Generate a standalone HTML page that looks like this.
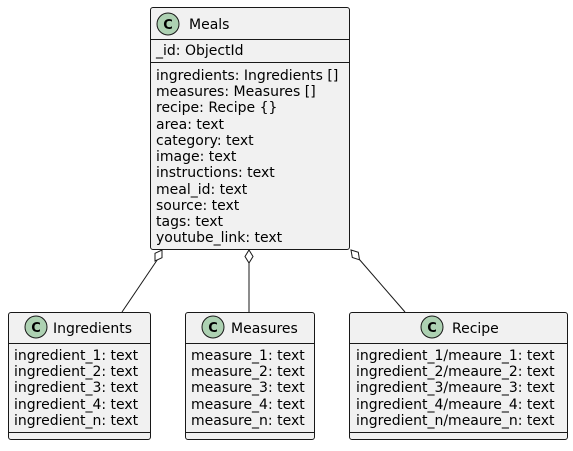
<!DOCTYPE html>
<html><head><meta charset="utf-8"><style>
html,body{margin:0;padding:0;background:#fff;}
svg text{font-family:"DejaVu Sans","Liberation Sans",sans-serif;font-size:14px;fill:#000;}
</style></head><body>
<svg width="573" height="446" viewBox="0 0 573 446" xmlns="http://www.w3.org/2000/svg">
<g stroke="#181818" stroke-width="1" fill="none">
<line x1="158.5" y1="258" x2="122" y2="312"/>
<line x1="249" y1="263" x2="249" y2="312"/>
<line x1="359" y1="259" x2="405" y2="312"/>
</g>
<g fill="#fff" stroke="#181818">
<polygon points="162,250 162,257.7 155,261 155,253.3"/>
<polygon points="249,250 253,256.5 249,263 245,256.5"/>
<polygon points="351,250 352.3,257.5 359.5,259.8 358.3,252.3"/>
</g>
<!-- Meals -->
<rect x="150.5" y="7.5" width="199" height="242" rx="2.5" fill="#F1F1F1" stroke="#181818"/>
<line x1="150.5" y1="39.5" x2="349.5" y2="39.5" stroke="#181818"/>
<line x1="150.5" y1="62.5" x2="349.5" y2="62.5" stroke="#181818"/>
<circle cx="168" cy="24" r="11" fill="#ADD1B2" stroke="#181818"/>
<text x="168" y="29" text-anchor="middle" style="font-weight:bold;font-size:13px">C</text>
<text x="189" y="29">Meals</text>
<text x="156" y="55">_id: ObjectId</text>
<text x="156" y="80">ingredients: Ingredients []</text>
<text x="156" y="96">measures: Measures []</text>
<text x="156" y="112">recipe: Recipe {}</text>
<text x="156" y="129">area: text</text>
<text x="156" y="145">category: text</text>
<text x="156" y="161">image: text</text>
<text x="156" y="177">instructions: text</text>
<text x="156" y="194">meal_id: text</text>
<text x="156" y="210">source: text</text>
<text x="156" y="226">tags: text</text>
<text x="156" y="242">youtube_link: text</text>
<!-- Ingredients -->
<rect x="8.5" y="312.5" width="142" height="127" rx="2.5" fill="#F1F1F1" stroke="#181818"/>
<line x1="8.5" y1="343.5" x2="150.5" y2="343.5" stroke="#181818"/>
<line x1="8.5" y1="432.5" x2="150.5" y2="432.5" stroke="#181818"/>
<circle cx="36" cy="327" r="11" fill="#ADD1B2" stroke="#181818"/>
<text x="36" y="332" text-anchor="middle" style="font-weight:bold;font-size:13px">C</text>
<text x="53" y="333">Ingredients</text>
<text x="14" y="360">ingredient_1: text</text>
<text x="14" y="376">ingredient_2: text</text>
<text x="14" y="392">ingredient_3: text</text>
<text x="14" y="409">ingredient_4: text</text>
<text x="14" y="425">ingredient_n: text</text>
<!-- Measures -->
<rect x="185.5" y="312.5" width="129" height="127" rx="2.5" fill="#F1F1F1" stroke="#181818"/>
<line x1="185.5" y1="343.5" x2="314.5" y2="343.5" stroke="#181818"/>
<line x1="185.5" y1="432.5" x2="314.5" y2="432.5" stroke="#181818"/>
<circle cx="213" cy="327" r="11" fill="#ADD1B2" stroke="#181818"/>
<text x="213" y="332" text-anchor="middle" style="font-weight:bold;font-size:13px">C</text>
<text x="231" y="333">Measures</text>
<text x="191" y="360">measure_1: text</text>
<text x="191" y="376">measure_2: text</text>
<text x="191" y="392">measure_3: text</text>
<text x="191" y="409">measure_4: text</text>
<text x="191" y="425">measure_n: text</text>
<!-- Recipe -->
<rect x="349.5" y="312.5" width="218" height="127" rx="2.5" fill="#F1F1F1" stroke="#181818"/>
<line x1="349.5" y1="343.5" x2="567.5" y2="343.5" stroke="#181818"/>
<line x1="349.5" y1="432.5" x2="567.5" y2="432.5" stroke="#181818"/>
<circle cx="432" cy="327" r="11" fill="#ADD1B2" stroke="#181818"/>
<text x="432" y="332" text-anchor="middle" style="font-weight:bold;font-size:13px">C</text>
<text x="452" y="333">Recipe</text>
<text x="356" y="360">ingredient_1/meaure_1: text</text>
<text x="356" y="376">ingredient_2/meaure_2: text</text>
<text x="356" y="392">ingredient_3/meaure_3: text</text>
<text x="356" y="409">ingredient_4/meaure_4: text</text>
<text x="356" y="425">ingredient_n/meaure_n: text</text>
</svg>
</body></html>
